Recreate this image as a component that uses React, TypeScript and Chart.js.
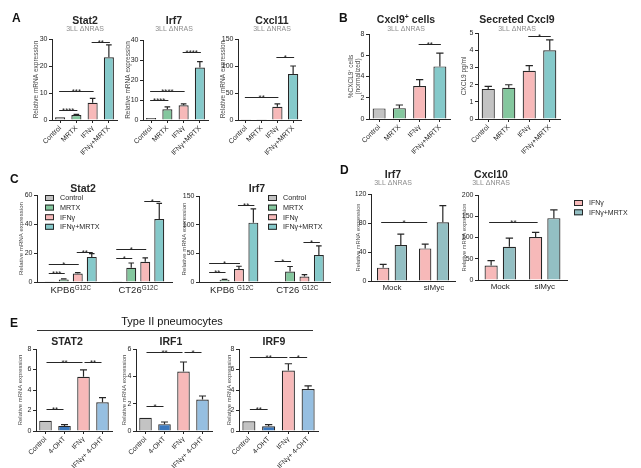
import React, { useEffect, useRef } from 'react';
import { Chart, registerables } from 'chart.js';

Chart.register(...registerables);

const FONT = '"Liberation Sans", Arial, Helvetica, sans-serif';
const INK = '#262626';
const AXIS_TITLE = '#4a4a4a';
const SUB = '#8c8c8c';
const GRAY = '#c3c3c3';
const GREEN = '#84c79e';
const PINK = '#f7b9b9';
const TEAL = '#85c9ca';
const TEAL_D = '#93bfc3';
const BLUE = '#3b78bd';
const LBLUE = '#96bfe1';

Chart.defaults.font.family = FONT;

// ---------- Panel A / B (3LL ΔNRAS) ----------
const catsMRTX = ['Control', 'MRTX', 'IFNγ', 'IFNγ+MRTX'];
const colorsMRTX = [GRAY, GREEN, PINK, TEAL];

const stat2A = [1, 1.85, 6.4, 23.2];
const stat2AErr = [0, 0.25, 1.6, 4.6];
const irf7A = [1, 5.4, 7.4, 26.2];
const irf7AErr = [0, 1.2, 0.7, 3];
const cxcl11A = [0.6, 0.6, 24.5, 85];
const cxcl11AErr = [0, 0, 5.5, 15];
const cxcl9Cells = [1, 1.02, 3.1, 4.95];
const cxcl9CellsErr = [0, 0.3, 0.6, 1.25];
const cxcl9Secreted = [1.75, 1.82, 2.8, 4.0];
const cxcl9SecretedErr = [0.15, 0.17, 0.3, 0.6];

// significance: [datasetA, indexA, datasetB, indexB, y value, stars]
type Sig = [number, number, number, number, number, string];
const stat2ASig: Sig[] = [[0, 0, 0, 1, 3.7, '****'], [0, 0, 0, 2, 10.8, '***'], [0, 2, 0, 3, 29, '**']];
const irf7ASig: Sig[] = [[0, 0, 0, 1, 10, '****'], [0, 0, 0, 2, 14.7, '****'], [0, 2, 0, 3, 34, '****']];
const cxcl11ASig: Sig[] = [[0, 0, 0, 2, 43, '**'], [0, 2, 0, 3, 116, '*']];
const cxcl9CellsSig: Sig[] = [[0, 2, 0, 3, 7.1, '**']];
const cxcl9SecretedSig: Sig[] = [[0, 2, 0, 3, 4.8, '*']];

// ---------- Panel C ----------
const groupsC = ['KPB6', 'CT26'];
const groupSup = 'G12C';
const stat2CControl = [0.5, 0.5];
const stat2CMRTX = [1.8, 9.8];
const stat2CMRTXErr = [0.3, 3.3];
const stat2CIFNg = [5.9, 13.9];
const stat2CIFNgErr = [0.6, 2.7];
const stat2CCombo = [17.3, 43.4];
const stat2CComboErr = [2.3, 10.8];
const stat2CSig: Sig[] = [
  [0, 0, 1, 0, 6.5, '***'], [0, 0, 2, 0, 12.5, '*'], [2, 0, 3, 0, 21, '**'],
  [0, 1, 1, 1, 16.5, '*'], [0, 1, 2, 1, 22.5, '*'], [2, 1, 3, 1, 56, '*'],
];
const irf7CControl = [0.8, 0.3];
const irf7CMRTX = [4, 18.4];
const irf7CMRTXErr = [0.6, 8.6];
const irf7CIFNg = [22.5, 9.5];
const irf7CIFNgErr = [5, 3.5];
const irf7CCombo = [103.5, 47];
const irf7CComboErr = [24, 16];
const irf7CSig: Sig[] = [
  [0, 0, 1, 0, 17, '**'], [0, 0, 2, 0, 33, '*'], [2, 0, 3, 0, 134, '**'],
  [0, 1, 1, 1, 37, '*'], [2, 1, 3, 1, 70, '*'],
];
const zeros2 = [0, 0];

// ---------- Panel D ----------
const groupsD = ['Mock', 'siMyc'];
const irf7DIFNg = [18.4, 45];
const irf7DIFNgErr = [4.6, 6];
const irf7DCombo = [49.7, 81];
const irf7DComboErr = [15, 23];
const irf7DSig: Sig[] = [[0, 0, 0, 1, 81, '*']];
const cxcl10DIFNg = [34, 101];
const cxcl10DIFNgErr = [11.5, 11];
const cxcl10DCombo = [78, 145.5];
const cxcl10DComboErr = [20.5, 19.5];
const cxcl10DSig: Sig[] = [[0, 0, 0, 1, 137, '**']];

// ---------- Panel E (Type II pneumocytes) ----------
const catsOHT = ['Control', '4-OHT', 'IFNγ', 'IFNγ+ 4-OHT'];
const colorsOHT = [GRAY, BLUE, PINK, LBLUE];
const stat2E = [1, 0.5, 5.3, 2.8];
const stat2EErr = [0, 0.13, 0.67, 0.45];
const stat2ESig: Sig[] = [[0, 0, 0, 1, 2.16, '**'], [0, 0, 0, 2, 6.7, '**'], [0, 2, 0, 3, 6.7, '**']];
const irf1E = [0.97, 0.5, 4.35, 2.3];
const irf1EErr = [0, 0.16, 0.7, 0.26];
const irf1ESig: Sig[] = [[0, 0, 0, 1, 1.82, '*'], [0, 0, 0, 2, 5.75, '**'], [0, 2, 0, 3, 5.75, '*']];
const irf9E = [0.95, 0.46, 5.9, 4.1];
const irf9EErr = [0, 0.17, 0.66, 0.3];
const irf9ESig: Sig[] = [[0, 0, 0, 1, 2.1, '**'], [0, 0, 0, 2, 7.2, '**'], [0, 2, 0, 3, 7.2, '*']];

const REL = 'Relative mRNA expression';
const SUBTITLE = '3LL ΔNRAS';

type Seg = { t: string; sup?: boolean };
type Series = { label: string; data: number[]; err: number[]; color: string | string[] };

interface Cfg {
  labels: string[];
  series: Series[];
  area: [number, number, number, number];
  yw: number;
  yMax: number;
  yStep: number;
  yTitle: string | string[];
  yTitleSize: number;
  title: Seg[];
  tx: number;
  ty: number;
  sub?: string;
  sy?: number;
  sigs: Sig[];
  sigExt: number;
  barPct: number;
  catPct: number;
  rotate: boolean;
  xTicks: boolean;
  xFont?: number;
  groupLabels?: Seg[][];
  gly?: number;
  legend?: { x: number; y: number; dy: number; tx: number; size: number };
}

function drawRich(ctx: CanvasRenderingContext2D, segs: Seg[], cx: number, baseline: number, size: number, weight: string, color: string) {
  const supSize = size * 0.66;
  const widths = segs.map((s) => {
    ctx.font = `${weight} ${s.sup ? supSize : size}px ${FONT}`;
    return ctx.measureText(s.t).width;
  });
  const total = widths.reduce((a, b) => a + b, 0);
  let x = cx - total / 2;
  ctx.textAlign = 'left';
  ctx.textBaseline = 'alphabetic';
  ctx.fillStyle = color;
  segs.forEach((s, k) => {
    ctx.font = `${weight} ${s.sup ? supSize : size}px ${FONT}`;
    ctx.fillText(s.t, x, s.sup ? baseline - size * 0.36 : baseline);
    x += widths[k];
  });
}

function BarChart({ cfg }: { cfg: Cfg }) {
  const ref = useRef<HTMLCanvasElement | null>(null);
  useEffect(() => {
    if (!ref.current) return;
    const [l, r, t, b] = cfg.area;
    const xh = cfg.rotate ? 40 : 18;
    const extras = {
      id: 'extras',
      afterDatasetsDraw(chart: any) {
        const ctx: CanvasRenderingContext2D = chart.ctx;
        const ys = chart.scales.y;
        ctx.save();
        ctx.strokeStyle = INK;
        ctx.lineWidth = 1.2;
        cfg.series.forEach((s, di) => {
          const meta = chart.getDatasetMeta(di);
          meta.data.forEach((bar: any, i: number) => {
            const e = s.err[i];
            if (!e) return;
            const yTop = ys.getPixelForValue(s.data[i] + e);
            const half = bar.width * 0.28;
            ctx.beginPath();
            ctx.moveTo(bar.x, bar.y);
            ctx.lineTo(bar.x, yTop);
            ctx.moveTo(bar.x - half, yTop);
            ctx.lineTo(bar.x + half, yTop);
            ctx.stroke();
          });
        });
        ctx.lineWidth = 1;
        cfg.sigs.forEach(([da, ia, db, ib, v, txt]) => {
          const xa = chart.getDatasetMeta(da).data[ia].x;
          const xb = chart.getDatasetMeta(db).data[ib].x;
          const y = Math.round(ys.getPixelForValue(v)) + 0.5;
          ctx.beginPath();
          ctx.moveTo(xa - cfg.sigExt, y);
          ctx.lineTo(xb + cfg.sigExt, y);
          ctx.stroke();
          ctx.font = `8px ${FONT}`;
          ctx.fillStyle = INK;
          ctx.textAlign = 'center';
          ctx.textBaseline = 'alphabetic';
          ctx.fillText(txt, (xa + xb) / 2, y + 2.5);
        });
        ctx.restore();
      },
      afterDraw(chart: any) {
        const ctx: CanvasRenderingContext2D = chart.ctx;
        ctx.save();
        drawRich(ctx, cfg.title, cfg.tx, cfg.ty, 10.5, 'bold', INK);
        if (cfg.sub) drawRich(ctx, [{ t: cfg.sub }], cfg.tx, cfg.sy as number, 7, 'normal', SUB);
        if (cfg.groupLabels) {
          cfg.groupLabels.forEach((segs, g) => {
            const cx = chart.scales.x.getPixelForValue(g);
            drawRich(ctx, segs, cx, cfg.gly as number, 9.5, 'normal', INK);
          });
        }
        if (cfg.legend) {
          const lg = cfg.legend;
          cfg.series.forEach((s, k) => {
            const yy = lg.y + k * lg.dy;
            ctx.fillStyle = s.color as string;
            ctx.fillRect(lg.x, yy - 3, 9, 6);
            ctx.strokeStyle = INK;
            ctx.lineWidth = 1;
            ctx.strokeRect(lg.x + 0.5, yy - 2.5, 8, 5);
            ctx.fillStyle = INK;
            ctx.font = `${lg.size}px ${FONT}`;
            ctx.textAlign = 'left';
            ctx.textBaseline = 'middle';
            ctx.fillText(s.label, lg.tx, yy + 0.5);
          });
        }
        ctx.restore();
      },
    };
    const chart = new Chart(ref.current, {
      type: 'bar',
      data: {
        labels: cfg.labels,
        datasets: cfg.series.map((s) => ({
          label: s.label,
          data: s.data,
          backgroundColor: s.color,
          borderColor: INK,
          borderWidth: 1.2,
          borderSkipped: 'start',
          barPercentage: cfg.barPct,
          categoryPercentage: cfg.catPct,
        })),
      },
      options: {
        responsive: false,
        animation: false,
        events: [],
        layout: { padding: { left: l - cfg.yw, right: 641 - r, top: t, bottom: 468 - b - xh } },
        plugins: { legend: { display: false }, title: { display: false }, tooltip: { enabled: false } },
        scales: {
          x: {
            type: 'category',
            grid: { display: true, drawOnChartArea: false, drawTicks: cfg.xTicks, tickLength: 3, color: INK, offset: false },
            border: { display: true, color: INK, width: 1 },
            ticks: {
              display: !cfg.groupLabels,
              autoSkip: false,
              maxRotation: cfg.rotate ? 45 : 0,
              minRotation: cfg.rotate ? 45 : 0,
              padding: cfg.rotate ? 1 : 2,
              color: INK,
              font: { family: FONT, size: cfg.xFont || 7 },
            },
            afterFit: (s: any) => { s.height = xh; },
          },
          y: {
            min: 0,
            max: cfg.yMax,
            grid: { display: true, drawOnChartArea: false, drawTicks: true, tickLength: 3, color: INK },
            border: { display: true, color: INK, width: 1 },
            ticks: { stepSize: cfg.yStep, padding: 1.5, color: INK, font: { family: FONT, size: 7 } },
            title: { display: true, text: cfg.yTitle, padding: 0, color: AXIS_TITLE, font: { family: FONT, size: cfg.yTitleSize, lineHeight: 1.1 } },
            afterFit: (s: any) => { s.width = cfg.yw; },
          },
        },
      },
      plugins: [extras],
    } as any);
    return () => chart.destroy();
  }, [cfg]);
  return <canvas ref={ref} width={641} height={468} style={{ position: 'absolute', left: 0, top: 0, width: 641, height: 468 }} />;
}

const single = (data: number[], err: number[], colors: string[]): Series[] => [{ label: '', data, err, color: colors }];
const fourC = (c: number[], m: number[], me: number[], i: number[], ie: number[], x: number[], xe: number[]): Series[] => [
  { label: 'Control', data: c, err: zeros2, color: GRAY },
  { label: 'MRTX', data: m, err: me, color: GREEN },
  { label: 'IFNγ', data: i, err: ie, color: PINK },
  { label: 'IFNγ+MRTX', data: x, err: xe, color: TEAL },
];
const twoD = (i: number[], ie: number[], x: number[], xe: number[]): Series[] => [
  { label: 'IFNγ', data: i, err: ie, color: PINK },
  { label: 'IFNγ+MRTX', data: x, err: xe, color: TEAL_D },
];

const groupSegsStat2: Seg[][] = groupsC.map((g) => [{ t: g }, { t: groupSup, sup: true }]);
const groupSegsIrf7: Seg[][] = groupsC.map((g) => [{ t: g + ' ' }, { t: groupSup, sup: true }]);

const CONFIGS: Cfg[] = [
  {
    labels: catsMRTX, series: single(stat2A, stat2AErr, colorsMRTX),
    area: [52, 117, 39, 120], yw: 19, yMax: 30, yStep: 10, yTitle: REL, yTitleSize: 6.5,
    title: [{ t: 'Stat2' }], tx: 85, ty: 23.5, sub: SUBTITLE, sy: 31,
    sigs: stat2ASig, sigExt: 1, barPct: 0.62, catPct: 1, rotate: true, xTicks: true,
  },
  {
    labels: catsMRTX, series: single(irf7A, irf7AErr, colorsMRTX),
    area: [143, 208, 40, 120], yw: 18, yMax: 40, yStep: 10, yTitle: REL, yTitleSize: 6.5,
    title: [{ t: 'Irf7' }], tx: 174, ty: 23.5, sub: SUBTITLE, sy: 31,
    sigs: irf7ASig, sigExt: 1, barPct: 0.62, catPct: 1, rotate: true, xTicks: true,
  },
  {
    labels: catsMRTX, series: single(cxcl11A, cxcl11AErr, colorsMRTX),
    area: [238, 301, 39, 120], yw: 18.5, yMax: 150, yStep: 50, yTitle: REL, yTitleSize: 6.5,
    title: [{ t: 'Cxcl11' }], tx: 272, ty: 23.5, sub: SUBTITLE, sy: 31,
    sigs: cxcl11ASig, sigExt: 1, barPct: 0.65, catPct: 1, rotate: true, xTicks: true,
  },
  {
    labels: catsMRTX, series: single(cxcl9Cells, cxcl9CellsErr, colorsMRTX),
    area: [369, 450, 34, 119], yw: 21.4, yMax: 8, yStep: 2, yTitle: ['%CXCL9⁺ cells', '(normalized)'], yTitleSize: 6.5,
    title: [{ t: 'Cxcl9' }, { t: '+', sup: true }, { t: ' cells' }], tx: 406, ty: 23, sub: SUBTITLE, sy: 30.5,
    sigs: cxcl9CellsSig, sigExt: 1, barPct: 0.64, catPct: 1, rotate: true, xTicks: true,
  },
  {
    labels: catsMRTX, series: single(cxcl9Secreted, cxcl9SecretedErr, colorsMRTX),
    area: [478, 560, 33, 119], yw: 17.4, yMax: 5, yStep: 1, yTitle: 'CXCL9 pg/ml', yTitleSize: 6.5,
    title: [{ t: 'Secreted Cxcl9' }], tx: 517, ty: 23, sub: SUBTITLE, sy: 30.5,
    sigs: cxcl9SecretedSig, sigExt: 1, barPct: 0.64, catPct: 1, rotate: true, xTicks: true,
  },
  {
    labels: groupsC, series: fourC(stat2CControl, stat2CMRTX, stat2CMRTXErr, stat2CIFNg, stat2CIFNgErr, stat2CCombo, stat2CComboErr),
    area: [37, 172, 195, 282], yw: 19.4, yMax: 60, yStep: 20, yTitle: REL, yTitleSize: 6.1,
    title: [{ t: 'Stat2' }], tx: 83, ty: 192,
    sigs: stat2CSig, sigExt: 1, barPct: 0.71, catPct: 0.83, rotate: false, xTicks: false,
    groupLabels: groupSegsStat2, gly: 293,
    legend: { x: 45, y: 198, dy: 9.6, tx: 60, size: 7.2 },
  },
  {
    labels: groupsC, series: fourC(irf7CControl, irf7CMRTX, irf7CMRTXErr, irf7CIFNg, irf7CIFNgErr, irf7CCombo, irf7CComboErr),
    area: [199, 330, 196, 282], yw: 18, yMax: 150, yStep: 50, yTitle: REL, yTitleSize: 6.1,
    title: [{ t: 'Irf7' }], tx: 257, ty: 192,
    sigs: irf7CSig, sigExt: 1, barPct: 0.69, catPct: 0.88, rotate: false, xTicks: false,
    groupLabels: groupSegsIrf7, gly: 293,
    legend: { x: 268, y: 198, dy: 9.6, tx: 283, size: 7.2 },
  },
  {
    labels: groupsD, series: twoD(irf7DIFNg, irf7DIFNgErr, irf7DCombo, irf7DComboErr),
    area: [371, 455, 194, 281], yw: 15.4, yMax: 120, yStep: 40, yTitle: REL, yTitleSize: 5.7,
    title: [{ t: 'Irf7' }], tx: 393, ty: 178, sub: SUBTITLE, sy: 184.5,
    sigs: irf7DSig, sigExt: 2, barPct: 0.7, catPct: 0.84, rotate: false, xTicks: false, xFont: 8,
  },
  {
    labels: groupsD, series: twoD(cxcl10DIFNg, cxcl10DIFNgErr, cxcl10DCombo, cxcl10DComboErr),
    area: [478, 567, 195, 280], yw: 17, yMax: 200, yStep: 50, yTitle: REL, yTitleSize: 5.7,
    title: [{ t: 'Cxcl10' }], tx: 491, ty: 178, sub: SUBTITLE, sy: 184.5,
    sigs: cxcl10DSig, sigExt: 2, barPct: 0.72, catPct: 0.82, rotate: false, xTicks: false, xFont: 8,
    legend: { x: 574, y: 203, dy: 9.3, tx: 589, size: 7 },
  },
  {
    labels: catsOHT, series: single(stat2E, stat2EErr, colorsOHT),
    area: [36, 112, 349, 431], yw: 18.4, yMax: 8, yStep: 2, yTitle: REL, yTitleSize: 5.9,
    title: [{ t: 'STAT2' }], tx: 67, ty: 345,
    sigs: stat2ESig, sigExt: -1, barPct: 0.66, catPct: 1, rotate: true, xTicks: true,
  },
  {
    labels: catsOHT, series: single(irf1E, irf1EErr, colorsOHT),
    area: [136, 212, 349, 431], yw: 15, yMax: 6, yStep: 2, yTitle: REL, yTitleSize: 5.9,
    title: [{ t: 'IRF1' }], tx: 171, ty: 345,
    sigs: irf1ESig, sigExt: -1, barPct: 0.66, catPct: 1, rotate: true, xTicks: true,
  },
  {
    labels: catsOHT, series: single(irf9E, irf9EErr, colorsOHT),
    area: [239, 318, 349, 431], yw: 12.4, yMax: 8, yStep: 2, yTitle: REL, yTitleSize: 5.9,
    title: [{ t: 'IRF9' }], tx: 274, ty: 345,
    sigs: irf9ESig, sigExt: -1, barPct: 0.66, catPct: 1, rotate: true, xTicks: true,
  },
];

const letterStyle = (left: number, top: number): React.CSSProperties => ({
  position: 'absolute', left, top, fontFamily: FONT, fontWeight: 'bold', fontSize: 12, lineHeight: '12px', color: '#111',
});

export default function App() {
  return (
    <div style={{ position: 'absolute', left: 0, top: 0, width: 641, height: 468, background: '#fff', overflow: 'hidden' }}>
      {CONFIGS.map((c, i) => <BarChart key={i} cfg={c} />)}
      <div style={letterStyle(12, 11.5)}>A</div>
      <div style={letterStyle(339, 11.5)}>B</div>
      <div style={letterStyle(10, 172.5)}>C</div>
      <div style={letterStyle(340, 163.5)}>D</div>
      <div style={letterStyle(10, 316.5)}>E</div>
      <div style={{ position: 'absolute', left: 72, width: 200, top: 315.5, textAlign: 'center', fontFamily: FONT, fontSize: 11, lineHeight: '11px', color: '#111' }}>Type II pneumocytes</div>
      <div style={{ position: 'absolute', left: 37, top: 329.5, width: 276, height: 0, borderTop: '1px solid #333' }} />
    </div>
  );
}
